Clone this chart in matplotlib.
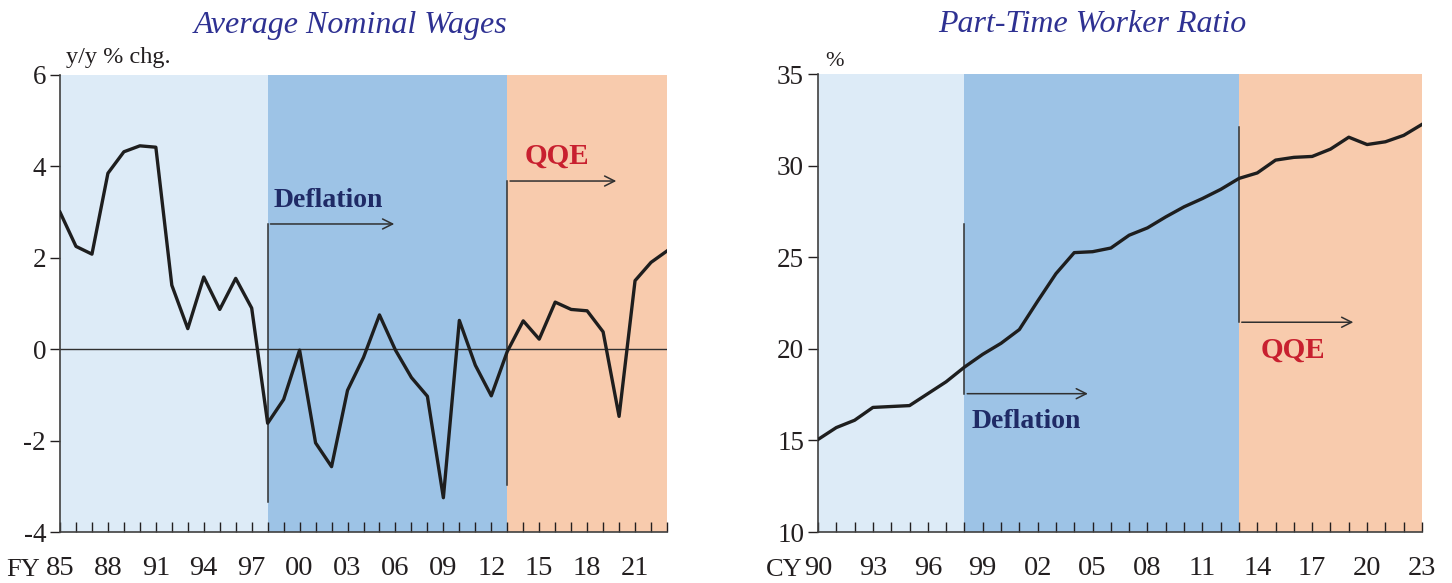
import numpy as np
import matplotlib
matplotlib.use("Agg")
import matplotlib.pyplot as plt

# Average nominal wages, y/y % chg. (FY)
wage_years = list(range(1985, 2024))
wage_chg = [3.0, 2.25, 2.08, 3.85, 4.32, 4.45, 4.42, 1.4, 0.45, 1.58,
            0.87, 1.55, 0.9, -1.62, -1.1, -0.02, -2.05, -2.57, -0.9, -0.18,
            0.75, -0.02, -0.62, -1.03, -3.25, 0.63, -0.35, -1.02, -0.05, 0.62,
            0.22, 1.03, 0.87, 0.84, 0.38, -1.47, 1.5, 1.9, 2.15]

# Part-time worker ratio, % (CY)
pt_years = list(range(1990, 2024))
pt_ratio = [15.05, 15.7, 16.1, 16.8, 16.85, 16.9, 17.55, 18.2, 19.0, 19.7,
            20.3, 21.05, 22.6, 24.1, 25.25, 25.3, 25.5, 26.2, 26.6, 27.2,
            27.75, 28.2, 28.7, 29.3, 29.6, 30.3, 30.45, 30.5, 30.9, 31.55,
            31.15, 31.3, 31.65, 32.25]

wage_ticks = list(range(1985, 2022, 3))
pt_ticks = list(range(1990, 2024, 3))

deflation_start, qqe_start = 1998, 2013

C_LIGHT = "#DDEBF7"
C_MID = "#9DC3E6"
C_PEACH = "#F8CBAD"
C_TEXT = "#231F20"
C_NAVY = "#1F2A66"
C_RED = "#C8202F"
C_TITLE = "#2E3192"

plt.rcParams["font.family"] = ["Liberation Serif", "DejaVu Serif"]

fig = plt.figure(figsize=(14.52, 5.83), dpi=100)
ax1 = fig.add_axes([60 / 1452, 51 / 583, 607 / 1452, 457 / 583])
ax2 = fig.add_axes([818 / 1452, 51 / 583, 604 / 1452, 458 / 583])


def style(ax, x0, x1, y0, y1, yticks, xticks):
    ax.set_xlim(x0, x1)
    ax.set_ylim(y0, y1)
    ax.axvspan(x0, deflation_start, color=C_LIGHT, lw=0, zorder=0)
    ax.axvspan(deflation_start, qqe_start, color=C_MID, lw=0, zorder=0)
    ax.axvspan(qqe_start, x1, color=C_PEACH, lw=0, zorder=0)
    for s in ("top", "right"):
        ax.spines[s].set_visible(False)
    for s in ("left", "bottom"):
        ax.spines[s].set_color("#404040")
        ax.spines[s].set_linewidth(1.2)
    ax.set_yticks(yticks)
    ax.set_yticklabels([str(v) for v in yticks])
    ax.tick_params(axis="y", direction="out", length=7, width=1, pad=3,
                   labelsize=19.5, colors=C_TEXT)
    ax.set_xticks(range(x0, x1 + 1), minor=True)
    ax.set_xticks(xticks)
    ax.set_xticklabels(["%02d" % (t % 100) for t in xticks])
    ax.tick_params(axis="x", which="both", direction="in", length=7, width=1,
                   pad=17, labelsize=20.5, colors=C_TEXT)


def bracket(ax, x, ya, yb, xend):
    ax.plot([x, x], [ya, yb], color="#303030", lw=1.1, zorder=3)
    ax.annotate("", xy=(xend, yb), xytext=(x, yb),
                arrowprops=dict(arrowstyle="->", color="#303030", lw=1.1,
                                mutation_scale=18), zorder=3)


# left panel
style(ax1, 1985, 2023, -4, 6, [-4, -2, 0, 2, 4, 6], wage_ticks)
ax1.axhline(0, color="#303030", lw=1, zorder=2)
ax1.plot(wage_years, wage_chg, color="#1E1E1E", lw=2.4, zorder=4)
bracket(ax1, deflation_start, -3.35, 2.74, 2006.1)
bracket(ax1, qqe_start, -2.98, 3.68, 2020.0)
ax1.text(1998.4, 3.25, "Deflation", color=C_NAVY, fontsize=20,
         fontweight="bold", va="center", ha="left")
ax1.text(2014.1, 4.22, "QQE", color=C_RED, fontsize=21,
         fontweight="bold", va="center", ha="left")

# right panel
style(ax2, 1990, 2023, 10, 35, [10, 15, 20, 25, 30, 35], pt_ticks)
ax2.plot(pt_years, pt_ratio, color="#1E1E1E", lw=2.4, zorder=4)
bracket(ax2, deflation_start, 26.8, 17.55, 2004.9)
bracket(ax2, qqe_start, 32.1, 21.45, 2019.4)
ax2.text(1998.4, 16.05, "Deflation", color=C_NAVY, fontsize=20,
         fontweight="bold", va="center", ha="left")
ax2.text(2014.2, 19.9, "QQE", color=C_RED, fontsize=21,
         fontweight="bold", va="center", ha="left")

# titles and unit labels
fig.text(351 / 1452, 1 - 25 / 583, "Average Nominal Wages", ha="center",
         va="center", fontsize=23, style="italic", color=C_TITLE)
fig.text(1092 / 1452, 1 - 25 / 583, "Part-Time Worker Ratio", ha="center",
         va="center", fontsize=23, style="italic", color=C_TITLE)
fig.text(66 / 1452, 1 - 57 / 583, "y/y % chg.", ha="left", va="center",
         fontsize=17.5, color=C_TEXT)
fig.text(825 / 1452, 1 - 62 / 583, "%", ha="left", va="center",
         fontsize=16, color=C_TEXT)
fig.text(6 / 1452, 1 - 570 / 583, "FY", ha="left", va="center",
         fontsize=19, color=C_TEXT)
fig.text(766 / 1452, 1 - 570 / 583, "CY", ha="left", va="center",
         fontsize=19, color=C_TEXT)

fig.savefig("out.png", dpi=100)
